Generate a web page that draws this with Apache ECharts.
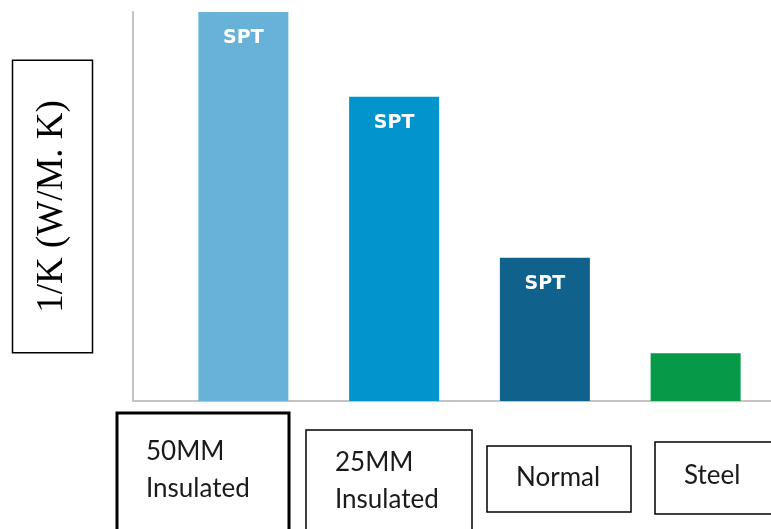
<!DOCTYPE html>
<html>
<head>
<meta charset="utf-8">
<script src="https://cdn.jsdelivr.net/npm/echarts@6/dist/echarts.min.js"></script>
<style>
  html, body { margin: 0; padding: 0; background: #fff; }
  #chart { width: 771px; height: 529px; }
</style>
</head>
<body>
<div id="chart"></div>
<script>
// data (arbitrary units, y axis has no ticks)
const categories = ["50MM\nInsulated", "25MM\nInsulated", "Normal", "Steel"];
const values = [100, 78.2, 36.8, 12.3];
const barLabels = ["SPT", "SPT", "SPT", ""];
const barColors = ["#68b1d8", "#0294cc", "#10628c", "#059a48"];

// where the boxed category names sit under the axis
const labelBoxes = [
  { x: 117, y: 413, w: 172, h: 130, lw: 3, ty: 470 },
  { x: 306, y: 430, w: 166, h: 110, lw: 1.5, ty: 481 },
  { x: 487, y: 446, w: 144, h: 66, lw: 1.5, ty: 478 },
  { x: 655, y: 442, w: 130, h: 72, lw: 1.5, ty: 476 }
];

const chart = echarts.init(document.getElementById("chart"));

const option = {
  animation: false,
  backgroundColor: "#fff",
  grid: { left: 168, right: -9, top: 12, bottom: 128, containLabel: false },
  xAxis: {
    type: "category",
    data: categories,
    axisLine: { show: true, lineStyle: { color: "#c4c4c4", width: 2 } },
    axisTick: { show: false },
    axisLabel: { show: false }
  },
  yAxis: {
    type: "value",
    min: 0,
    max: 100,
    offset: 35.5,
    axisLine: { show: true, lineStyle: { color: "#c4c4c4", width: 2 } },
    axisTick: { show: false },
    axisLabel: { show: false },
    splitLine: { show: false },
    name: "1/K (W/M. K)",
    nameLocation: "middle",
    nameRotate: 90,
    nameGap: 40,
    nameTextStyle: {
      fontFamily: "Liberation Serif",
      fontSize: 37,
      color: "#000",
      lineHeight: 40,
      borderColor: "#000",
      borderWidth: 1.5,
      padding: [20, 40]
    }
  },
  series: [
    {
      type: "bar",
      barWidth: 90,
      data: values.map((v, i) => ({
        value: v,
        itemStyle: { color: barColors[i] },
        label: { formatter: barLabels[i] }
      })),
      label: {
        show: true,
        position: "insideTop",
        distance: 17,
        color: "#fff",
        fontFamily: "DejaVu Sans",
        fontWeight: "bold",
        fontSize: 19
      }
    }
  ]
};

chart.setOption(option);

// boxed category names + axis line running back to the y axis
const y0 = chart.convertToPixel({ yAxisIndex: 0 }, 0);
const graphics = [
  {
    type: "line",
    shape: { x1: 132, y1: y0, x2: 771, y2: y0 },
    style: { stroke: "#c4c4c4", lineWidth: 2 }
  }
];
categories.forEach((name, i) => {
  const b = labelBoxes[i];
  graphics.push({
    type: "rect",
    shape: { x: b.x, y: b.y, width: b.w, height: b.h },
    style: { fill: "#fff", stroke: "#000", lineWidth: b.lw }
  });
  graphics.push({
    type: "text",
    x: b.x + 29,
    y: b.ty,
    style: {
      text: name,
      fill: "#1a1a1a",
      font: "26px Lato",
      lineHeight: 37,
      verticalAlign: "middle",
      align: "left"
    }
  });
});
chart.setOption({ graphic: graphics });
</script>
</body>
</html>
